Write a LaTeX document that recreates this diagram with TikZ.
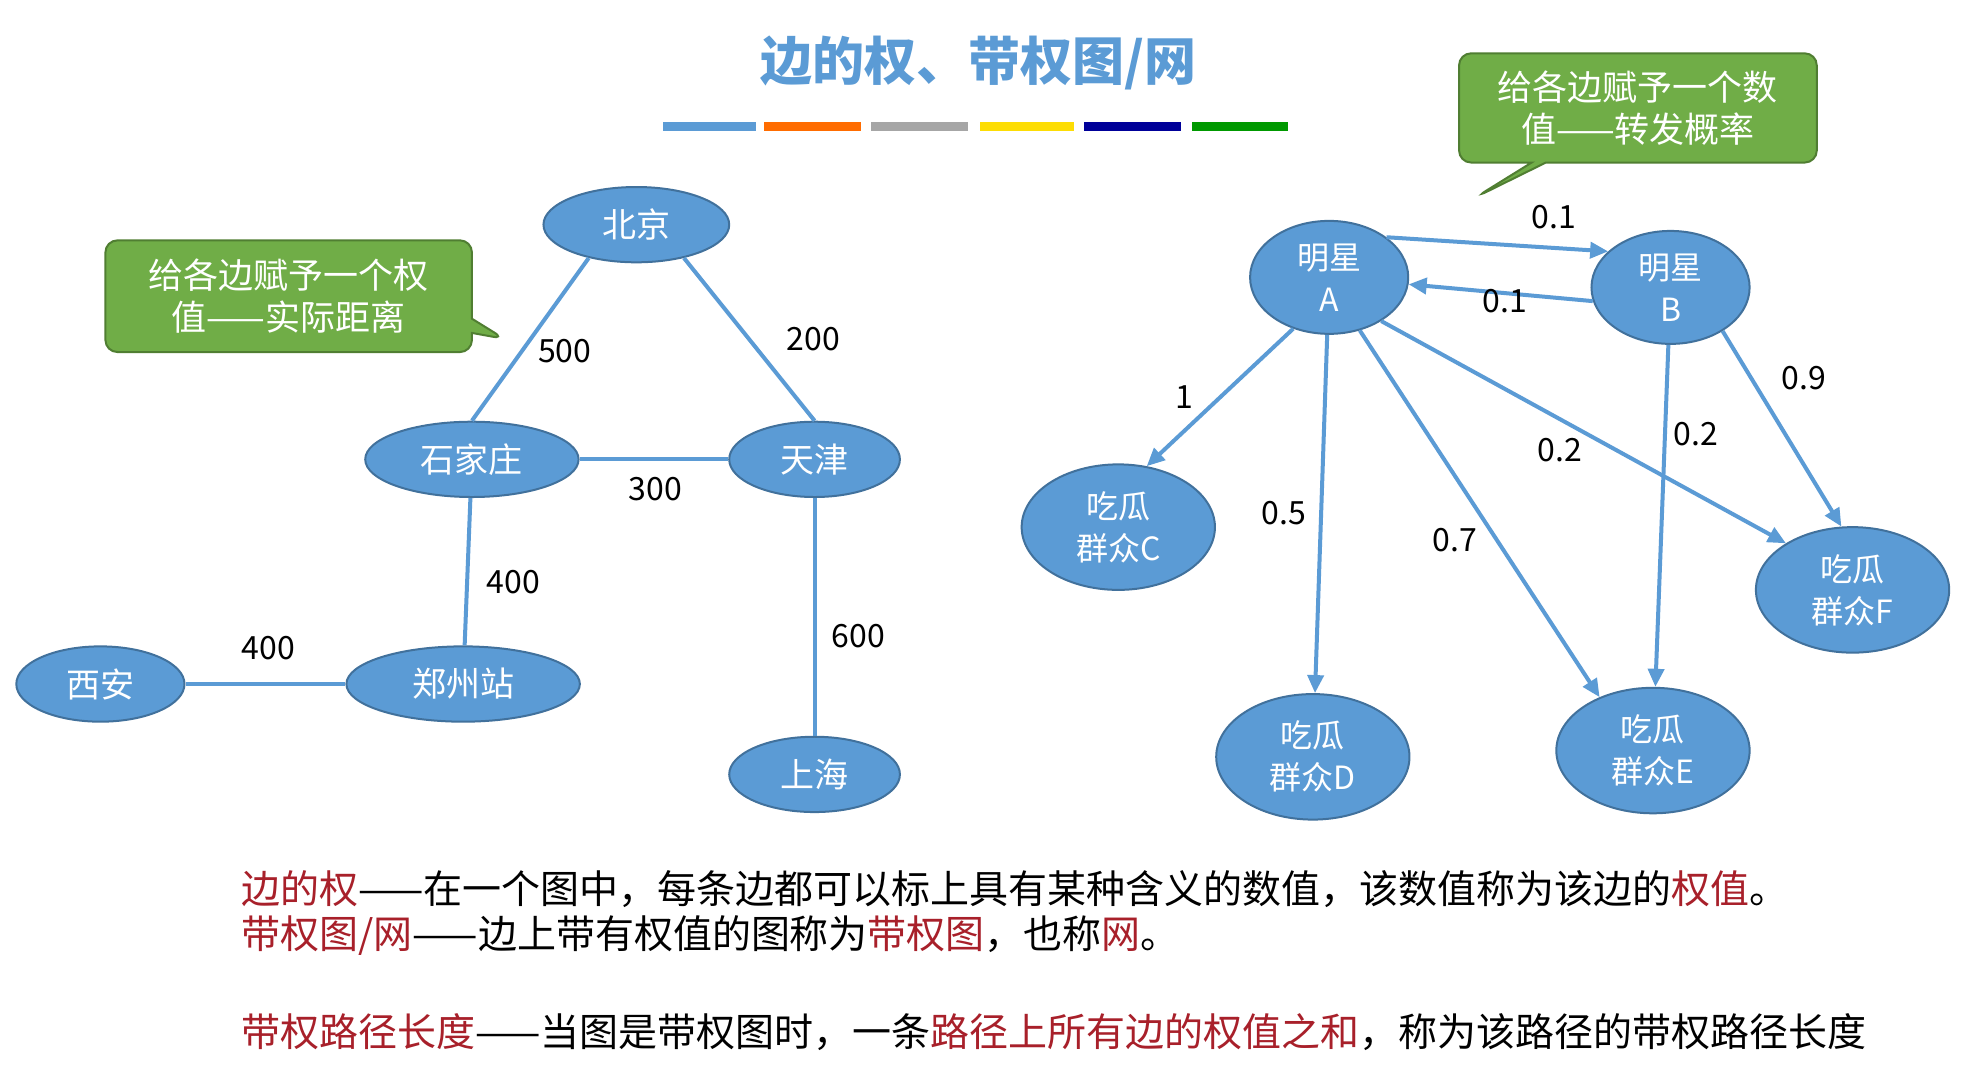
\documentclass[tikz,border=0pt]{standalone}
\usepackage{fontspec}
\setmainfont{Noto Sans CJK SC}
\usetikzlibrary{shapes.geometric,shapes.callouts,arrows.meta}
\definecolor{nb}{HTML}{5B9BD5}
\definecolor{nbd}{HTML}{41719C}
\definecolor{gr}{HTML}{70AD47}
\definecolor{grd}{HTML}{507E32}
\definecolor{rd}{HTML}{A8202A}
\newlength\uu \setlength\uu{0.6276pt}
\begin{document}
\begin{tikzpicture}[x=0.6276pt,y=-0.6276pt,
  city/.style={ellipse,fill=nb,draw=nbd,line width=1pt,text=white,inner sep=0pt,font=\fontsize{17}{19}\selectfont},
  star/.style={city,align=center,font=\fontsize{16}{21}\selectfont},
  ed/.style={nb,line width=2pt},
  ar/.style={ed,-{Triangle[length=9pt,width=8pt]}},
  num/.style={font=\fontsize{16}{18}\selectfont,text=black},
  co/.style={rectangle callout,rounded corners=6pt,fill=gr,draw=grd,line width=1pt,text=white,align=center,font=\fontsize{17.5}{21}\selectfont,inner sep=0pt}]
\useasboundingbox (0,0) rectangle (1568,860);
\fill[white] (0,0) rectangle (1568,860);
\node[text=nb,font=\fontsize{26}{30}\selectfont\bfseries] (title) at (780,50) {边的权、带权图/网};
\foreach \c/\a/\b in {nb/528/602,{orange!85!red}/609/686,gray!70/694/771,{yellow!80!orange}/781/856,{blue!60!black}/864/941,{green!60!black}/950/1026}
  \fill[\c] (\a,97) rectangle (\b,104);
% left graph
\node[city,minimum width=148\uu,minimum height=60\uu] (bj) at (507,179) {北京};
\node[city,minimum width=170\uu,minimum height=60\uu] (sjz) at (376,366) {石家庄};
\node[city,minimum width=136\uu,minimum height=60\uu] (tj) at (649,366) {天津};
\node[city,minimum width=134\uu,minimum height=60\uu] (xa) at (80,545) {西安};
\node[city,minimum width=186\uu,minimum height=60\uu] (zz) at (369,545) {郑州站};
\node[city,minimum width=136\uu,minimum height=60\uu] (sh) at (649,617) {上海};
\draw[ed] (bj.215) -- (sjz.north);
\node[num] at (450,280) {500};
\draw[ed] (bj.-35) -- (tj.north);
\node[num] at (648,270) {200};
\draw[ed] (sjz) -- (tj);
\node[num] at (522,390) {300};
\draw[ed] (sjz) -- (zz);
\node[num] at (409,464) {400};
\draw[ed] (xa) -- (zz);
\node[num] at (214,516) {400};
\draw[ed] (tj) -- (sh);
\node[num] at (684,507) {600};
\node[co,minimum width=292\uu,minimum height=89\uu,callout absolute pointer={(402,270)}] (c1) at (230,236) {给各边赋予一个权\\值——实际距离};
% right graph
\node[star,minimum width=126\uu,minimum height=90\uu] (A) at (1059,221) {明星\\A};
\node[star,minimum width=126\uu,minimum height=90\uu] (B) at (1331,229) {明星\\B};
\node[star,minimum width=154\uu,minimum height=100\uu] (C) at (891,420) {吃瓜\\群众C};
\node[star,minimum width=154\uu,minimum height=100\uu] (D) at (1046,603) {吃瓜\\群众D};
\node[star,minimum width=154\uu,minimum height=100\uu] (E) at (1317,598) {吃瓜\\群众E};
\node[star,minimum width=154\uu,minimum height=100\uu] (F) at (1476,470) {吃瓜\\群众F};
\draw[ar] (A.35) -- (B.150);
\node[num] at (1238,173) {0.1};
\draw[ar] (B.190) -- (A.-5);
\node[num] at (1199,240) {0.1};
\draw[ar] (A.235) -- (C.65);
\node[num] at (944,316) {1};
\draw[ar] (A) -- (D);
\node[num] at (1023,409) {0.5};
\draw[ar] (A.-60) -- (E.135);
\node[num] at (1159,430) {0.7};
\draw[ar] (A.-40) -- (F.145);
\node[num] at (1243,359) {0.2};
\draw[ar] (B) -- (E);
\node[num] at (1351,346) {0.2};
\draw[ar] (B.-40) -- (F.100);
\node[num] at (1437,301) {0.9};
\node[co,minimum width=285\uu,minimum height=87\uu,callout absolute pointer={(1176,157)}] (c2) at (1305,86) {给各边赋予一个数\\值——转发概率};
% bottom text
\begin{scope}[every node/.style={anchor=west,font=\fontsize{19.5}{22}\selectfont,inner sep=0pt}]
\node (t1) at (192,708) {\textcolor{rd}{边的权}——在一个图中，每条边都可以标上具有某种含义的数值，该数值称为该边的\textcolor{rd}{权值}。};
\node (t2) at (192,745) {\textcolor{rd}{带权图/网}——边上带有权值的图称为\textcolor{rd}{带权图}，也称\textcolor{rd}{网}。};
\node (t3) at (192,822) {\textcolor{rd}{带权路径长度}——当图是带权图时，一条\textcolor{rd}{路径上所有边的权值之和}，称为该路径的带权路径长度};
\end{scope}
\end{tikzpicture}
\end{document}
